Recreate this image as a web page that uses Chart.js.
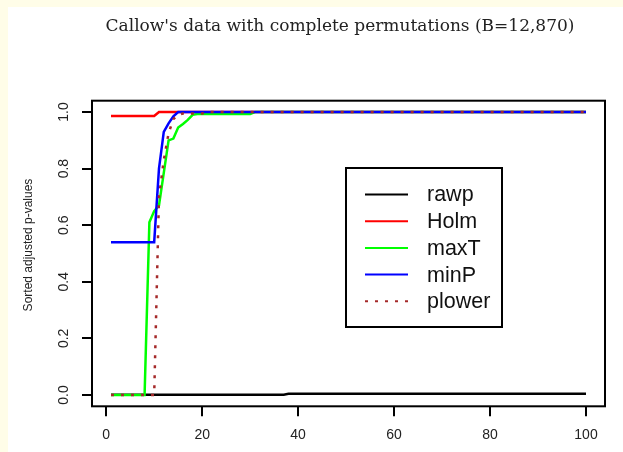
<!DOCTYPE html>
<html>
<head>
<meta charset="utf-8">
<script src="https://cdn.jsdelivr.net/npm/chart.js@4/dist/chart.umd.min.js"></script>
<style>
  html, body { margin: 0; padding: 0; background: #fffde8; }
  canvas { display: block; }
</style>
</head>
<body>
<canvas id="grafico" width="623" height="452"></canvas>
<script>
// Índices (hipóteses ordenadas) e p-valores ajustados
const indices = Array.from({ length: 100 }, (_, i) => i + 1);

const rawp = [
  0.001, 0.001, 0.001, 0.001, 0.001, 0.001, 0.001, 0.001, 0.001, 0.001,
  0.001, 0.001, 0.001, 0.001, 0.001, 0.001, 0.001, 0.001, 0.001, 0.001,
  0.001, 0.001, 0.001, 0.001, 0.001, 0.001, 0.001, 0.001, 0.001, 0.001,
  0.001, 0.001, 0.001, 0.001, 0.001, 0.001, 0.001, 0.004, 0.004, 0.004,
  0.004, 0.004, 0.004, 0.004, 0.004, 0.004, 0.004, 0.004, 0.004, 0.004,
  0.004, 0.004, 0.004, 0.004, 0.004, 0.004, 0.004, 0.004, 0.004, 0.004,
  0.004, 0.004, 0.004, 0.004, 0.004, 0.004, 0.004, 0.004, 0.004, 0.004,
  0.004, 0.004, 0.004, 0.004, 0.004, 0.004, 0.004, 0.004, 0.004, 0.004,
  0.004, 0.004, 0.004, 0.004, 0.004, 0.004, 0.004, 0.004, 0.004, 0.004,
  0.004, 0.004, 0.004, 0.004, 0.004, 0.004, 0.004, 0.004, 0.004, 0.004
];

const holm = [
  0.986, 0.986, 0.986, 0.986, 0.986, 0.986, 0.986, 0.986, 0.986, 0.986,
  1, 1, 1, 1, 1, 1, 1, 1, 1, 1,
  1, 1, 1, 1, 1, 1, 1, 1, 1, 1,
  1, 1, 1, 1, 1, 1, 1, 1, 1, 1,
  1, 1, 1, 1, 1, 1, 1, 1, 1, 1,
  1, 1, 1, 1, 1, 1, 1, 1, 1, 1,
  1, 1, 1, 1, 1, 1, 1, 1, 1, 1,
  1, 1, 1, 1, 1, 1, 1, 1, 1, 1,
  1, 1, 1, 1, 1, 1, 1, 1, 1, 1,
  1, 1, 1, 1, 1, 1, 1, 1, 1, 1
];

const maxT = [
  0, 0, 0, 0, 0, 0, 0, 0, 0.61, 0.65,
  0.67, 0.785, 0.9, 0.906, 0.945, 0.958, 0.972, 0.99, 0.993, 0.993,
  0.993, 0.993, 0.993, 0.993, 0.993, 0.993, 0.993, 0.993, 0.993, 0.993,
  1, 1, 1, 1, 1, 1, 1, 1, 1, 1,
  1, 1, 1, 1, 1, 1, 1, 1, 1, 1,
  1, 1, 1, 1, 1, 1, 1, 1, 1, 1,
  1, 1, 1, 1, 1, 1, 1, 1, 1, 1,
  1, 1, 1, 1, 1, 1, 1, 1, 1, 1,
  1, 1, 1, 1, 1, 1, 1, 1, 1, 1,
  1, 1, 1, 1, 1, 1, 1, 1, 1, 1
];

const minP = [
  0.54, 0.54, 0.54, 0.54, 0.54, 0.54, 0.54, 0.54, 0.54, 0.54,
  0.8, 0.93, 0.96, 0.985, 1, 1, 1, 1, 1, 1,
  1, 1, 1, 1, 1, 1, 1, 1, 1, 1,
  1, 1, 1, 1, 1, 1, 1, 1, 1, 1,
  1, 1, 1, 1, 1, 1, 1, 1, 1, 1,
  1, 1, 1, 1, 1, 1, 1, 1, 1, 1,
  1, 1, 1, 1, 1, 1, 1, 1, 1, 1,
  1, 1, 1, 1, 1, 1, 1, 1, 1, 1,
  1, 1, 1, 1, 1, 1, 1, 1, 1, 1,
  1, 1, 1, 1, 1, 1, 1, 1, 1, 1
];

const plower = [
  0, 0, 0, 0, 0, 0, 0, 0, 0, 0,
  0.7, 0.83, 0.925, 0.975, 0.99, 0.995, 0.995, 0.995, 0.995, 0.995,
  1, 1, 1, 1, 1, 1, 1, 1, 1, 1,
  1, 1, 1, 1, 1, 1, 1, 1, 1, 1,
  1, 1, 1, 1, 1, 1, 1, 1, 1, 1,
  1, 1, 1, 1, 1, 1, 1, 1, 1, 1,
  1, 1, 1, 1, 1, 1, 1, 1, 1, 1,
  1, 1, 1, 1, 1, 1, 1, 1, 1, 1,
  1, 1, 1, 1, 1, 1, 1, 1, 1, 1,
  1, 1, 1, 1, 1, 1, 1, 1, 1, 1
];

const xTicks = [0, 20, 40, 60, 80, 100];
const yTicks = [0, 0.2, 0.4, 0.6, 0.8, 1.0];
const yTickLabels = ["0.0", "0.2", "0.4", "0.6", "0.8", "1.0"];

const titulo = "Callow's data with complete permutations (B=12,870)";
const tituloY = "Sorted adjusted p-values";

const fonteSans = "'Liberation Sans', Arial, sans-serif";

function pontos(serie) {
  return indices.map((x, i) => ({ x: x, y: serie[i] }));
}

// Fundo creme com painel branco
const fundo = {
  id: "fundo",
  beforeDraw(chart) {
    const ctx = chart.ctx;
    ctx.save();
    ctx.fillStyle = "#fffde8";
    ctx.fillRect(0, 0, chart.width, chart.height);
    ctx.fillStyle = "#ffffff";
    ctx.fillRect(8, 7, chart.width - 8, chart.height - 7);
    ctx.restore();
  }
};

// Caixa, rótulos do eixo y, título e legenda no estilo R
const estiloR = {
  id: "estiloR",
  afterDraw(chart) {
    const ctx = chart.ctx;
    const a = chart.chartArea;
    const y = chart.scales.y;
    ctx.save();

    // caixa do gráfico
    ctx.strokeStyle = "#000";
    ctx.lineWidth = 2;
    ctx.strokeRect(a.left, a.top, a.right - a.left, a.bottom - a.top);

    // rótulos do eixo y (rotacionados)
    ctx.fillStyle = "#222";
    ctx.font = "14px " + fonteSans;
    ctx.textAlign = "center";
    ctx.textBaseline = "middle";
    yTicks.forEach((v, i) => {
      ctx.save();
      ctx.translate(64, y.getPixelForValue(v));
      ctx.rotate(-Math.PI / 2);
      ctx.fillText(yTickLabels[i], 0, 0);
      ctx.restore();
    });

    // título do eixo y
    ctx.save();
    ctx.font = "12px " + fonteSans;
    ctx.translate(29, 245);
    ctx.rotate(-Math.PI / 2);
    ctx.fillText(tituloY, 0, 0);
    ctx.restore();

    // título principal
    ctx.font = "17px 'DejaVu Serif', serif";
    ctx.fillStyle = "#222";
    ctx.fillText(titulo, 340, 27);

    // legenda
    const lx = 346, ly = 168, lw = 156, lh = 159;
    ctx.fillStyle = "#fff";
    ctx.fillRect(lx, ly, lw, lh);
    ctx.strokeStyle = "#000";
    ctx.lineWidth = 2;
    ctx.strokeRect(lx, ly, lw, lh);
    ctx.font = "21.5px " + fonteSans;
    ctx.textAlign = "left";
    chart.data.datasets.forEach((ds, i) => {
      const yy = 194.5 + i * 26.7;
      ctx.strokeStyle = ds.borderColor;
      ctx.lineWidth = ds.borderWidth;
      ctx.setLineDash(ds.borderDash || []);
      ctx.beginPath();
      ctx.moveTo(365, yy);
      ctx.lineTo(408, yy);
      ctx.stroke();
      ctx.setLineDash([]);
      ctx.fillStyle = "#111";
      ctx.fillText(ds.label, 427, yy + 1);
    });

    ctx.restore();
  }
};

new Chart(document.getElementById("grafico"), {
  type: "line",
  data: {
    datasets: [
      { label: "rawp", data: pontos(rawp), borderColor: "#000000", order: 5 },
      { label: "Holm", data: pontos(holm), borderColor: "#ff0000", order: 4 },
      { label: "maxT", data: pontos(maxT), borderColor: "#00ff00", order: 3 },
      { label: "minP", data: pontos(minP), borderColor: "#0000ff", order: 2 },
      { label: "plower", data: pontos(plower), borderColor: "#a52a2a", borderDash: [3, 7], order: 1 }
    ]
  },
  options: {
    responsive: false,
    animation: false,
    events: [],
    layout: {
      padding: { top: 100.7, right: 18, left: 0, bottom: 0 }
    },
    elements: {
      line: { borderWidth: 2.5, tension: 0, fill: false },
      point: { radius: 0 }
    },
    plugins: {
      legend: { display: false },
      tooltip: { enabled: false },
      title: { display: false }
    },
    scales: {
      x: {
        type: "linear",
        min: -2.96,
        max: 103.96,
        afterBuildTicks: scale => { scale.ticks = xTicks.map(v => ({ value: v })); },
        afterFit: scale => { scale.height = 45.7; },
        ticks: {
          color: "#222",
          padding: 10,
          maxRotation: 0,
          font: { family: fonteSans, size: 14 },
          callback: v => String(v)
        },
        grid: {
          drawOnChartArea: false,
          drawTicks: true,
          tickLength: 10,
          color: "#000",
          lineWidth: 2
        },
        border: { display: false }
      },
      y: {
        type: "linear",
        min: -0.04,
        max: 1.04,
        afterBuildTicks: scale => { scale.ticks = yTicks.map(v => ({ value: v })); },
        afterFit: scale => { scale.width = 92; },
        ticks: { display: false },
        grid: {
          drawOnChartArea: false,
          drawTicks: true,
          tickLength: 10,
          color: "#000",
          lineWidth: 2
        },
        border: { display: false }
      }
    }
  },
  plugins: [fundo, estiloR]
});
</script>
</body>
</html>
